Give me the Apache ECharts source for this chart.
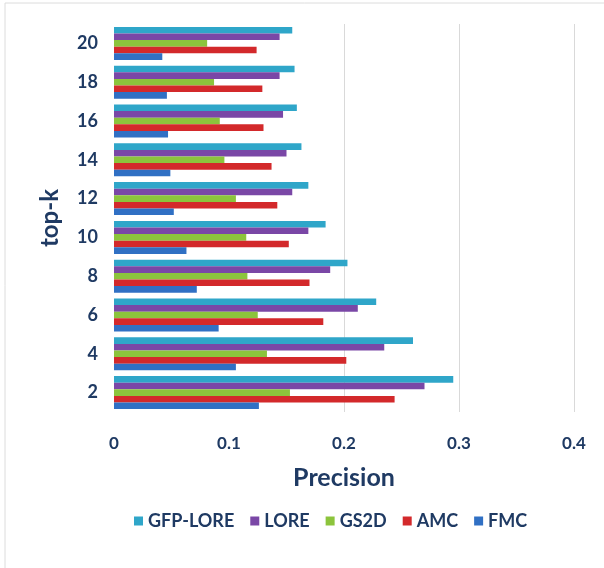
<!DOCTYPE html>
<html>
<head>
<meta charset="utf-8">
<script src="https://cdn.jsdelivr.net/npm/echarts@6/dist/echarts.min.js"></script>
<style>html,body{margin:0;padding:0;background:#fff}#c{width:604px;height:568px}</style>
</head>
<body>
<div id="c"></div>
<script>
const categories = ['2','4','6','8','10','12','14','16','18','20'];
const xTicks = [0, 0.1, 0.2, 0.3, 0.4];
const GFPLORE = [0.295, 0.260, 0.228, 0.203, 0.184, 0.169, 0.163, 0.159, 0.157, 0.155];
const LORE = [0.270, 0.235, 0.212, 0.188, 0.169, 0.155, 0.150, 0.147, 0.144, 0.144];
const GS2D = [0.153, 0.133, 0.125, 0.116, 0.115, 0.106, 0.096, 0.092, 0.087, 0.081];
const AMC  = [0.244, 0.202, 0.182, 0.170, 0.152, 0.142, 0.137, 0.130, 0.129, 0.124];
const FMC  = [0.126, 0.106, 0.091, 0.072, 0.063, 0.052, 0.049, 0.047, 0.046, 0.042];
const legendOrder = ['GFP-LORE','LORE','GS2D','AMC','FMC'];

const navy = '#1f3a63';
const font = 'Lato, "Open Sans", sans-serif';
const chart = echarts.init(document.getElementById('c'), null, {renderer:'canvas'});
function s(name, data, color){
  return {name, type:'bar', data, barGap:'0%', barCategoryGap:'15%',
    itemStyle:{color}};
}
chart.setOption({
  animation:false,
  textStyle:{fontFamily:font},
  graphic:[{type:'polyline', shape:{points:[[5,568],[5,3],[604,3]]}, style:{stroke:'#dcdcdc', fill:null, lineWidth:1}}],
  grid:{left:114, right:30, top:24, bottom:156},
  legend:{data:legendOrder, top:507, left:129, itemWidth:9, itemHeight:9, itemGap:16,
    icon:'rect', textStyle:{fontSize:18, fontWeight:'bold', color:navy, fontFamily:font}},
  xAxis:{type:'value', min:xTicks[0], max:xTicks[xTicks.length-1], interval:0.1,
    name:'Precision', nameLocation:'middle', nameGap:53,
    nameTextStyle:{fontSize:25, fontWeight:'bold', color:navy, fontFamily:font},
    axisLine:{show:false}, axisTick:{show:false},
    axisLabel:{margin:23, fontSize:17, fontWeight:'bold', color:navy, fontFamily:font,
      formatter:v=>String(Math.round(v*10)/10)},
    splitLine:{show:true, lineStyle:{color:['rgba(0,0,0,0)','rgba(0,0,0,0)','#d9d9d9','#d9d9d9','#d9d9d9'], width:1}}
  },
  yAxis:{type:'category', data:categories,
    name:'top-k', nameLocation:'middle', nameGap:52, nameRotate:90,
    nameTextStyle:{fontSize:24, fontWeight:'bold', color:navy, fontFamily:font},
    axisLine:{show:false}, axisTick:{show:false},
    axisLabel:{margin:16, fontSize:18, fontWeight:'bold', color:navy, fontFamily:font}
  },
  series:[
    s('GFP-LORE', GFPLORE, '#2fa6c9'),
    s('LORE', LORE, '#7a47a6'),
    s('GS2D', GS2D, '#8cc43c'),
    s('AMC', AMC, '#d3292b'),
    s('FMC', FMC, '#3070c4')
  ]
});
</script>
</body>
</html>
